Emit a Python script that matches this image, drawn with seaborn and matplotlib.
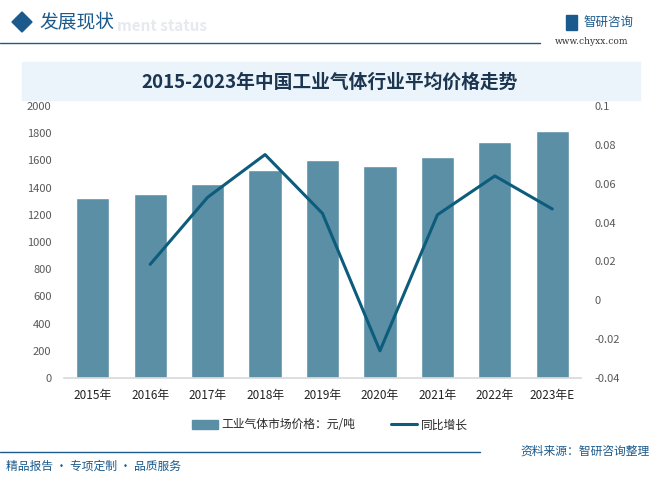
import numpy as np
import pandas as pd
import seaborn as sns
from matplotlib import pyplot as plt
from matplotlib.patches import Rectangle, Polygon
from matplotlib.lines import Line2D

# data
years = ['2015年', '2016年', '2017年', '2018年', '2019年', '2020年', '2021年', '2022年', '2023年E']
price = [1323, 1353, 1426, 1529, 1603, 1559, 1625, 1735, 1816]
growth = [np.nan, 0.0185, 0.053, 0.075, 0.0447, -0.026, 0.044, 0.064, 0.047]

bar_color = '#5b8fa6'
line_color = '#0d5c7c'
head_color = '#1b5a8c'

sns.set_theme(style='white')
plt.rcParams['font.family'] = ['Noto Sans CJK SC', 'DejaVu Sans']

df = pd.DataFrame({'year': years, 'price': price, 'growth': growth})

fig = plt.figure(figsize=(6.6, 4.82), dpi=100)

# header
fig.patches.append(Polygon([[12/660, 1-22/482], [22/660, 1-12/482], [32/660, 1-22/482], [22/660, 1-32/482]],
                           closed=True, transform=fig.transFigure, color=head_color))
fig.text(117/660, 1-26/482, 'ment status', fontsize=11, color='#e6e9ee', va='center', ha='left', fontweight='bold')
fig.text(39/660, 1-22/482, '发展现状', fontsize=13.5, color=head_color, va='center', ha='left')
fig.add_artist(Line2D([0, 540/660], [1-43/482, 1-43/482], transform=fig.transFigure, color=head_color, lw=1))
fig.text(583/660, 1-22/482, '智研咨询', fontsize=9, color=head_color, va='center', ha='left')
fig.text(555/660, 1-42/482, 'www.chyxx.com', fontsize=6.5, color='#333333', va='center', ha='left',
         family='DejaVu Serif')
fig.patches.append(Rectangle((566/660, 1-30/482), 11/660, 15/482, transform=fig.transFigure, color=head_color))

# title band
fig.patches.append(Rectangle((22/660, 1-100/482), 618/660, 38/482, transform=fig.transFigure,
                             color='#eaf4fa', zorder=0))
fig.text(0.5, 1-82/482, '2015-2023年中国工业气体行业平均价格走势', fontsize=13.5, color='#1c3550',
         ha='center', va='center', fontweight='bold')

ax = fig.add_axes([64/660, 1-378/482, 517/660, 272/482])
sns.barplot(data=df, x='year', y='price', color=bar_color, width=0.58, saturation=1, ax=ax)
ax.set_ylim(0, 2000)
ax.set_yticks(range(0, 2001, 200))
ax.set_xlim(-0.5, 8.5)
ax.set_xlabel('')
ax.set_ylabel('')
for s in ['top', 'right', 'left']:
    ax.spines[s].set_visible(False)
ax.spines['bottom'].set_color('#d9d9d9')
ax.tick_params(axis='y', labelsize=8, colors='#595959', pad=9, length=0)
ax.tick_params(axis='x', labelsize=8.5, colors='#222222', pad=8, length=0)

ax2 = ax.twinx()
sns.lineplot(data=df, x='year', y='growth', color=line_color, lw=2.2, ax=ax2, sort=False)
ax2.set_ylim(-0.04, 0.1)
ax2.set_yticks([-0.04, -0.02, 0, 0.02, 0.04, 0.06, 0.08, 0.1])
ax2.set_yticklabels(['-0.04', '-0.02', '0', '0.02', '0.04', '0.06', '0.08', '0.1'])
ax2.set_ylabel('')
for s in ['top', 'right', 'left', 'bottom']:
    ax2.spines[s].set_visible(False)
ax2.tick_params(axis='y', labelsize=8, colors='#595959', pad=10, length=0)

handles = [Rectangle((0, 0), 1, 1, color=bar_color), Line2D([0], [0], color=line_color, lw=2.2)]
fig.legend(handles, ['工业气体市场价格：元/吨', '同比增长'], loc='center', bbox_to_anchor=(0.5, 1-425/482),
           ncol=2, frameon=False, fontsize=8.5, handlelength=2.2, columnspacing=3, handletextpad=0.3)

# footer
fig.add_artist(Line2D([0, 480/660], [1-452/482, 1-452/482], transform=fig.transFigure, color=head_color, lw=1))
fig.text(650/660, 1-451/482, '资料来源：智研咨询整理', fontsize=8.5, color=head_color, ha='right', va='center')
fig.text(6/660, 1-466/482, '精品报告 · 专项定制 · 品质服务', fontsize=8.5, color=head_color, ha='left', va='center')

fig.savefig('out.png', dpi=100)
